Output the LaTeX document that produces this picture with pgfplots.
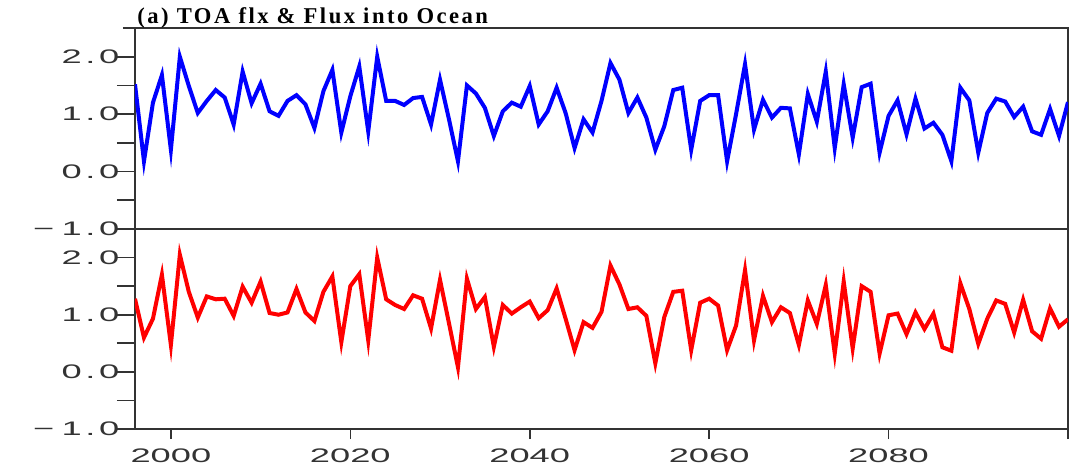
\documentclass[border=0pt]{standalone}
\usepackage{pgfplots}
\pgfplotsset{compat=1.18}
\usepackage{fontspec}
\setmainfont{Liberation Sans}
\newfontfamily\titlefont[LetterSpace=11]{Liberation Serif}
\newcommand\tl[1]{\scalebox{1.85}[1]{#1}}
\newcommand\yl[2]{\tl{#1#2\kern1pt.\kern1pt0}}
\pgfplotstableread{
year toa
1996 1.52
1997 0.18
1998 1.20
1999 1.68
2000 0.38
2001 2.00
2002 1.49
2003 1.02
2004 1.23
2005 1.42
2006 1.29
2007 0.82
2008 1.74
2009 1.19
2010 1.53
2011 1.05
2012 0.97
2013 1.23
2014 1.33
2015 1.17
2016 0.76
2017 1.40
2018 1.77
2019 0.68
2020 1.31
2021 1.83
2022 0.70
2023 2.00
2024 1.23
2025 1.23
2026 1.16
2027 1.28
2028 1.30
2029 0.82
2030 1.60
2031 0.91
2032 0.18
2033 1.50
2034 1.36
2035 1.11
2036 0.62
2037 1.05
2038 1.20
2039 1.13
2040 1.49
2041 0.82
2042 1.05
2043 1.46
2044 1.02
2045 0.41
2046 0.91
2047 0.68
2048 1.23
2049 1.89
2050 1.60
2051 1.02
2052 1.29
2053 0.94
2054 0.38
2055 0.79
2056 1.42
2057 1.46
2058 0.38
2059 1.23
2060 1.33
2061 1.33
2062 0.18
2063 1.00
2064 1.87
2065 0.73
2066 1.25
2067 0.94
2068 1.11
2069 1.10
2070 0.30
2071 1.35
2072 0.87
2073 1.74
2074 0.41
2075 1.52
2076 0.59
2077 1.47
2078 1.53
2079 0.33
2080 0.97
2081 1.24
2082 0.65
2083 1.27
2084 0.75
2085 0.85
2086 0.64
2087 0.18
2088 1.46
2089 1.24
2090 0.33
2091 1.02
2092 1.27
2093 1.22
2094 0.95
2095 1.13
2096 0.70
2097 0.64
2098 1.09
2099 0.62
2100 1.21
}\toadata
\pgfplotstableread{
year ocean
1996 1.28
1997 0.60
1998 0.93
1999 1.70
2000 0.47
2001 2.05
2002 1.40
2003 0.95
2004 1.32
2005 1.27
2006 1.28
2007 0.98
2008 1.49
2009 1.21
2010 1.58
2011 1.03
2012 1.00
2013 1.04
2014 1.45
2015 1.04
2016 0.89
2017 1.40
2018 1.67
2019 0.52
2020 1.50
2021 1.71
2022 0.55
2023 2.00
2024 1.27
2025 1.17
2026 1.10
2027 1.34
2028 1.28
2029 0.76
2030 1.61
2031 0.85
2032 0.08
2033 1.63
2034 1.10
2035 1.31
2036 0.44
2037 1.17
2038 1.02
2039 1.13
2040 1.23
2041 0.94
2042 1.08
2043 1.46
2044 0.93
2045 0.38
2046 0.87
2047 0.77
2048 1.05
2049 1.86
2050 1.53
2051 1.10
2052 1.13
2053 0.98
2054 0.15
2055 0.96
2056 1.40
2057 1.42
2058 0.38
2059 1.21
2060 1.28
2061 1.16
2062 0.38
2063 0.81
2064 1.78
2065 0.55
2066 1.33
2067 0.87
2068 1.13
2069 1.03
2070 0.47
2071 1.25
2072 0.84
2073 1.52
2074 0.32
2075 1.58
2076 0.41
2077 1.50
2078 1.40
2079 0.32
2080 0.99
2081 1.02
2082 0.66
2083 1.04
2084 0.75
2085 1.02
2086 0.43
2087 0.37
2088 1.55
2089 1.10
2090 0.49
2091 0.93
2092 1.25
2093 1.19
2094 0.69
2095 1.26
2096 0.71
2097 0.58
2098 1.11
2099 0.79
2100 0.92
}\oceandata
\pgfplotsset{
  panel/.style={
    scale only axis,
    width=466.5pt,
    xmin=1996, xmax=2100,
    ymin=-1, ymax=2.5,
    axis line style={black!80, line width=0.8pt},
    tick align=outside,
    tick style={black!80, line width=0.8pt},
    ytick={-1,-0.5,0,0.5,1,1.5,2},
    yticklabels={{\tl{−\kern2pt1\kern1pt.\kern1pt0}},{},{\yl{}{0}},{},{\yl{}{1}},{},{\yl{}{2}}},
    ytick pos=left,
    ytick style={/pgfplots/major tick length=9pt},
    tick label style={font=\fontsize{9.8}{9.8}\selectfont, text=black!80},
    yticklabel style={anchor=east},
    every axis plot/.append style={line width=2pt, line join=miter},
  }
}
\begin{document}
\begin{tikzpicture}
\begin{axis}[panel, name=bot, at={(0pt,0pt)}, anchor=south west, height=100pt,
    xtick={2000,2020,2040,2060,2080,2100},
    xticklabels={\tl{2000},\tl{2020},\tl{2040},\tl{2060},\tl{2080},{}},
    xtick pos=bottom,
    xtick style={/pgfplots/major tick length=5pt},
    xticklabel style={anchor=north, yshift=-2pt},
  ]
  \addplot[color={rgb,255:red,255;green,0;blue,0}, no markers] table[x=year,y=ocean] {\oceandata};
\end{axis}
\begin{axis}[panel, name=top, at={(0pt,100pt)}, anchor=south west, height=100.5pt,
    xtick=\empty,
  ]
  \addplot[color={rgb,255:red,0;green,0;blue,255}, no markers] table[x=year,y=toa] {\toadata};
\end{axis}
\draw[black!80, line width=0.8pt] (-6pt,200.5pt) -- (466.5pt,200.5pt);
\node[anchor=base west, inner sep=0pt, font=\titlefont\bfseries\fontsize{11.3}{11.3}\selectfont] at (1pt,203pt) {(a) TOA flx \& Flux into Ocean};
\pgfresetboundingbox
\path (-67.5pt,-22pt) rectangle (468.5pt,214.5pt);
\end{tikzpicture}
\end{document}
